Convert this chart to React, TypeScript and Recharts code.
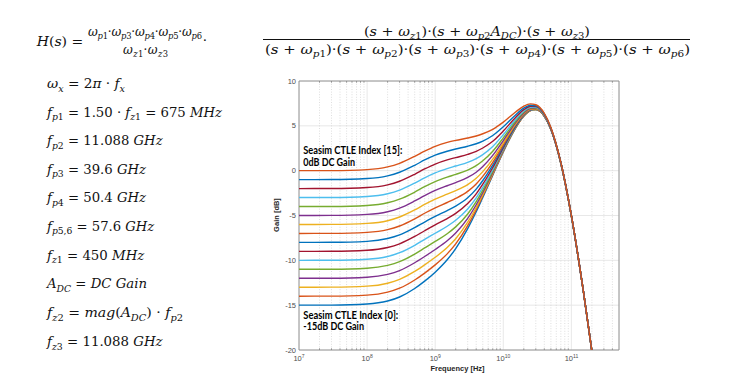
import React from 'react';
import { LineChart, Line, XAxis, YAxis, CartesianGrid, ReferenceLine, ReferenceArea } from 'recharts';

// Frequency points (Hz)
const freqHz = [1e7, 3e7, 1e8, 2e8, 3e8, 5e8, 7e8, 1e9, 1.5e9, 2e9, 3e9, 4e9, 5e9, 7e9, 1e10, 1.5e10, 2e10, 2.5e10, 3e10, 4e10, 5e10, 7e10, 1e11, 1.5e11, 2e11, 3e11];

// Gain (dB) per Seasim CTLE index
const gainIdx0 = [-15.0, -14.99, -14.87, -14.54, -14.09, -13.14, -12.32, -11.32, -9.94, -8.69, -6.46, -4.58, -2.98, -0.51, 2.1, 4.7, 6.08, 6.7, 6.81, 6.08, 4.61, 0.83, -5.06, -13.47, -20.15, -30.1];
const gainIdx1 = [-14.0, -13.99, -13.88, -13.55, -13.11, -12.19, -11.42, -10.51, -9.28, -8.16, -6.13, -4.36, -2.83, -0.43, 2.14, 4.72, 6.09, 6.7, 6.82, 6.08, 4.62, 0.83, -5.06, -13.47, -20.15, -30.1];
const gainIdx2 = [-13.0, -12.99, -12.88, -12.55, -12.12, -11.24, -10.5, -9.66, -8.57, -7.59, -5.75, -4.11, -2.65, -0.32, 2.19, 4.74, 6.1, 6.71, 6.82, 6.09, 4.62, 0.83, -5.06, -13.47, -20.15, -30.1];
const gainIdx3 = [-12.0, -11.99, -11.88, -11.56, -11.14, -10.27, -9.57, -8.79, -7.82, -6.95, -5.32, -3.8, -2.43, -0.2, 2.25, 4.77, 6.12, 6.72, 6.83, 6.09, 4.62, 0.83, -5.06, -13.47, -20.15, -30.1];
const gainIdx4 = [-11.0, -10.99, -10.88, -10.56, -10.15, -9.3, -8.62, -7.89, -7.03, -6.27, -4.83, -3.45, -2.17, -0.05, 2.33, 4.81, 6.14, 6.74, 6.84, 6.1, 4.62, 0.83, -5.06, -13.47, -20.15, -30.1];
const gainIdx5 = [-10.0, -9.99, -9.88, -9.57, -9.15, -8.32, -7.66, -6.98, -6.2, -5.53, -4.28, -3.04, -1.87, 0.13, 2.43, 4.86, 6.17, 6.75, 6.85, 6.1, 4.63, 0.84, -5.05, -13.47, -20.15, -30.1];
const gainIdx6 = [-9.0, -8.99, -8.88, -8.57, -8.16, -7.34, -6.7, -6.04, -5.34, -4.76, -3.67, -2.58, -1.51, 0.35, 2.55, 4.91, 6.2, 6.78, 6.87, 6.11, 4.63, 0.84, -5.05, -13.47, -20.15, -30.1];
const gainIdx7 = [-8.0, -7.99, -7.88, -7.57, -7.17, -6.35, -5.73, -5.1, -4.45, -3.95, -3.02, -2.06, -1.1, 0.62, 2.7, 4.98, 6.24, 6.8, 6.89, 6.12, 4.64, 0.84, -5.05, -13.47, -20.15, -30.1];
const gainIdx8 = [-7.0, -6.99, -6.88, -6.58, -6.17, -5.37, -4.75, -4.14, -3.55, -3.1, -2.31, -1.48, -0.64, 0.92, 2.88, 5.07, 6.29, 6.84, 6.91, 6.13, 4.65, 0.85, -5.05, -13.47, -20.15, -30.1];
const gainIdx9 = [-6.0, -5.99, -5.88, -5.58, -5.17, -4.38, -3.77, -3.18, -2.62, -2.23, -1.55, -0.85, -0.11, 1.28, 3.1, 5.18, 6.36, 6.88, 6.94, 6.15, 4.66, 0.85, -5.04, -13.47, -20.14, -30.1];
const gainIdx10 = [-5.0, -4.99, -4.88, -4.58, -4.18, -3.38, -2.78, -2.21, -1.68, -1.33, -0.76, -0.17, 0.47, 1.7, 3.36, 5.32, 6.44, 6.93, 6.98, 6.17, 4.67, 0.86, -5.04, -13.46, -20.14, -30.1];
const gainIdx11 = [-4.0, -3.99, -3.88, -3.58, -3.18, -2.39, -1.79, -1.23, -0.73, -0.42, 0.07, 0.57, 1.11, 2.17, 3.66, 5.48, 6.54, 7.0, 7.02, 6.2, 4.69, 0.87, -5.03, -13.46, -20.14, -30.1];
const gainIdx12 = [-3.0, -2.99, -2.88, -2.58, -2.18, -1.39, -0.8, -0.25, 0.23, 0.52, 0.93, 1.34, 1.79, 2.7, 4.01, 5.68, 6.66, 7.08, 7.08, 6.23, 4.71, 0.88, -5.03, -13.46, -20.14, -30.1];
const gainIdx13 = [-2.0, -1.99, -1.88, -1.58, -1.18, -0.4, 0.19, 0.74, 1.2, 1.46, 1.81, 2.15, 2.53, 3.28, 4.42, 5.91, 6.8, 7.18, 7.15, 6.27, 4.74, 0.89, -5.02, -13.46, -20.14, -30.09];
const gainIdx14 = [-1.0, -0.99, -0.88, -0.58, -0.18, 0.6, 1.19, 1.73, 2.17, 2.42, 2.72, 3.0, 3.3, 3.92, 4.89, 6.19, 6.98, 7.3, 7.24, 6.33, 4.77, 0.91, -5.01, -13.45, -20.13, -30.09];
const gainIdx15 = [0.0, 0.01, 0.12, 0.42, 0.82, 1.6, 2.18, 2.72, 3.15, 3.38, 3.64, 3.87, 4.12, 4.61, 5.41, 6.52, 7.2, 7.45, 7.35, 6.39, 4.82, 0.93, -5.0, -13.45, -20.13, -30.09];

const allGains = [gainIdx0, gainIdx1, gainIdx2, gainIdx3, gainIdx4, gainIdx5, gainIdx6, gainIdx7, gainIdx8, gainIdx9, gainIdx10, gainIdx11, gainIdx12, gainIdx13, gainIdx14, gainIdx15];
const colorOrder = ['#0072BD', '#D95319', '#EDB120', '#7E2F8E', '#77AC30', '#4DBEEE', '#A2142F'];

const xTicks = [1e7, 1e8, 1e9, 1e10, 1e11];
const xMinor = [2e7, 3e7, 4e7, 5e7, 6e7, 7e7, 8e7, 9e7, 2e8, 3e8, 4e8, 5e8, 6e8, 7e8, 8e8, 9e8, 2e9, 3e9, 4e9, 5e9, 6e9, 7e9, 8e9, 9e9, 2e10, 3e10, 4e10, 5e10, 6e10, 7e10, 8e10, 9e10, 2e11, 3e11, 4e11];
const yTicks = [-20, -15, -10, -5, 0, 5, 10];
const xDomain = [1e7, 5e11];
const yDomain = [-20, 10];

const rows = freqHz.map((f, i) => {
  const r: any = { f };
  allGains.forEach((g, k) => { r['g' + k] = g[i]; });
  return r;
});

// ---- equation text ----
const eqMain = 'H(s) =';
const eqFrac1Num = 'ω_{p1}·ω_{p3}·ω_{p4}·ω_{p5}·ω_{p6}';
const eqFrac1Den = 'ω_{z1}·ω_{z3}';
const eqFrac2Num = '(s + ω_{z1})·(s + ω_{p2}A_{DC})·(s + ω_{z3})';
const eqFrac2Den = '(s + ω_{p1})·(s + ω_{p2})·(s + ω_{p3})·(s + ω_{p4})·(s + ω_{p5})·(s + ω_{p6})';
const eqList = [
  'ω_{x} = 2π · f_{x}',
  'f_{p1} = 1.50 · f_{z1} = 675 MHz',
  'f_{p2} = 11.088 GHz',
  'f_{p3} = 39.6 GHz',
  'f_{p4} = 50.4 GHz',
  'f_{p5,6} = 57.6 GHz',
  'f_{z1} = 450 MHz',
  'A_{DC} = DC Gain',
  'f_{z2} = mag(A_{DC}) · f_{p2}',
  'f_{z3} = 11.088 GHz',
];
const eqListBaselines = [88, 116.5, 145, 173.5, 202, 230.5, 259.5, 288, 317, 346];
const eqListWidths = [78, 175, 115.6, 99, 99, 107.3, 97.3, 100, 136, 115.6];

const EQ_FONT = "'DejaVu Serif', serif";
const LABEL_FONT = "'Liberation Sans', Arial, sans-serif";
const NOTE_FONT = "'Liberation Sans Narrow', Lato, sans-serif";

const isLetter = (c: string) => /[A-Za-zωπ]/.test(c);
function parse(src: string): [string, string][] {
  const out: [string, string][] = [];
  const push = (t: string, k: string) => {
    const last = out[out.length - 1];
    if (last && last[1] === k) last[0] += t; else out.push([t, k]);
  };
  let i = 0;
  while (i < src.length) {
    if (src[i] === '_' && src[i + 1] === '{') {
      const j = src.indexOf('}', i);
      for (const c of src.slice(i + 2, j)) push(c, isLetter(c) ? 'si' : 'sr');
      i = j + 1;
    } else {
      push(src[i], isLetter(src[i]) ? 'i' : 'r');
      i++;
    }
  }
  return out;
}

function MathText({ x, y, src, anchor = 'start', len, size = 13.5, adjust = 'spacingAndGlyphs' }: any) {
  let shift = 0;
  const kids = parse(src).map(([t, k], i) => {
    const sub = k[0] === 's';
    const target = sub ? size * 0.27 : 0;
    const dy = target - shift;
    shift = target;
    return (
      <tspan key={i} dy={dy} fontStyle={k.endsWith('i') ? 'italic' : 'normal'} fontSize={sub ? size * 0.7 : size}>
        {t}
      </tspan>
    );
  });
  return (
    <text x={x} y={y} textAnchor={anchor} textLength={len} lengthAdjust={adjust} fontFamily={EQ_FONT} fontSize={size} fill="#111" style={{ whiteSpace: 'pre' }}>
      {kids}
    </text>
  );
}

const XTick = (props: any) => {
  const { x, y, payload } = props;
  const exp = Math.round(Math.log10(payload.value));
  return (
    <text x={x} y={y + 9} textAnchor="middle" fontFamily={LABEL_FONT} fontSize={7.5} fill="#4d4d4d">
      <tspan>10</tspan>
      <tspan dy={-3.5} fontSize={5}>{exp}</tspan>
    </text>
  );
};

export default function App() {
  return (
    <div style={{ position: 'absolute', left: 0, top: 0, width: 731, height: 382, background: '#fff', overflow: 'hidden' }}>
      <div style={{ position: 'absolute', left: 250, top: 70 }}>
        <LineChart width={380} height={312} data={rows} margin={{ top: 11, right: 11, bottom: 12, left: 19 }}>
          <CartesianGrid stroke="#e2e2e2" strokeWidth={0.8} />
          {xMinor.map((v) => (
            <ReferenceLine key={'m' + v} x={v} stroke="#d0d0d0" strokeWidth={0.7} strokeDasharray="1 1.6" />
          ))}
          <XAxis
            dataKey="f"
            type="number"
            scale="log"
            domain={xDomain}
            ticks={xTicks}
            interval={0}
            allowDataOverflow
            tick={<XTick />}
            tickLine={false}
            axisLine={false}
            tickSize={0}
            height={20}
          />
          <YAxis
            type="number"
            domain={yDomain}
            ticks={yTicks}
            interval={0}
            allowDataOverflow
            tickLine={false}
            axisLine={false}
            tickSize={1}
            tickMargin={2}
            width={30}
            tick={{ fontSize: 7.5, fill: '#4d4d4d', fontFamily: LABEL_FONT }}
          />
          {xMinor.map((v) => (
            <ReferenceLine key={'tb' + v} segment={[{ x: v, y: -20 }, { x: v, y: -19.8 }]} stroke="#666" strokeWidth={0.6} />
          ))}
          {xMinor.map((v) => (
            <ReferenceLine key={'tt' + v} segment={[{ x: v, y: 10 }, { x: v, y: 9.8 }]} stroke="#666" strokeWidth={0.6} />
          ))}
          <ReferenceArea x1={xDomain[0]} x2={xDomain[1]} y1={yDomain[0]} y2={yDomain[1]} fill="none" stroke="#8c8c8c" strokeWidth={0.9} />
          {allGains.map((_, k) => (
            <Line
              key={k}
              dataKey={'g' + k}
              type="monotone"
              stroke={colorOrder[k % colorOrder.length]}
              strokeWidth={1.4}
              dot={false}
              activeDot={false}
              isAnimationActive={false}
            />
          ))}
        </LineChart>
      </div>
      <svg width={731} height={382} style={{ position: 'absolute', left: 0, top: 0, pointerEvents: 'none' }}>
        {/* transfer function */}
        <MathText x={36.7} y={45.5} src={eqMain} len={46.6} />
        <MathText x={145} y={35.5} src={eqFrac1Num} anchor="middle" len={114} size={12} adjust="spacing" />
        <MathText x={145.5} y={53.5} src={eqFrac1Den} anchor="middle" len={45} size={12} adjust="spacing" />
        <MathText x={205} y={44.5} src="·" anchor="middle" />
        <MathText x={477} y={35.5} src={eqFrac2Num} anchor="middle" len={226} />
        <line x1={263} x2={690} y1={39.5} y2={39.5} stroke="#111" strokeWidth={1} />
        <MathText x={477.5} y={53.5} src={eqFrac2Den} anchor="middle" len={425} />
        {eqList.map((s, i) => (
          <MathText key={i} x={47} y={eqListBaselines[i]} src={s} len={eqListWidths[i]} />
        ))}
        {/* annotations */}
        <text x={303.3} y={154} fontFamily={NOTE_FONT} fontWeight="bold" fontSize={11} textLength={99} lengthAdjust="spacingAndGlyphs" fill="#000">Seasim CTLE Index [15]:</text>
        <text x={303.3} y={165.5} fontFamily={NOTE_FONT} fontWeight="bold" fontSize={11} textLength={51.7} lengthAdjust="spacingAndGlyphs" fill="#000">0dB DC Gain</text>
        <text x={303.3} y={318.5} fontFamily={NOTE_FONT} fontWeight="bold" fontSize={11} textLength={95} lengthAdjust="spacingAndGlyphs" fill="#000">Seasim CTLE Index [0]:</text>
        <text x={303.3} y={330} fontFamily={NOTE_FONT} fontWeight="bold" fontSize={11} textLength={60.7} lengthAdjust="spacingAndGlyphs" fill="#000">-15dB DC Gain</text>
        {/* axis labels */}
        <text x={457.5} y={370.7} textAnchor="middle" fontFamily={LABEL_FONT} fontWeight="bold" fontSize={7.5} fill="#262626">Frequency [Hz]</text>
        <text x={0} y={0} transform="translate(278.5 215) rotate(-90)" textAnchor="middle" fontFamily={LABEL_FONT} fontWeight="bold" fontSize={7.5} fill="#262626">Gain [dB]</text>
      </svg>
    </div>
  );
}
